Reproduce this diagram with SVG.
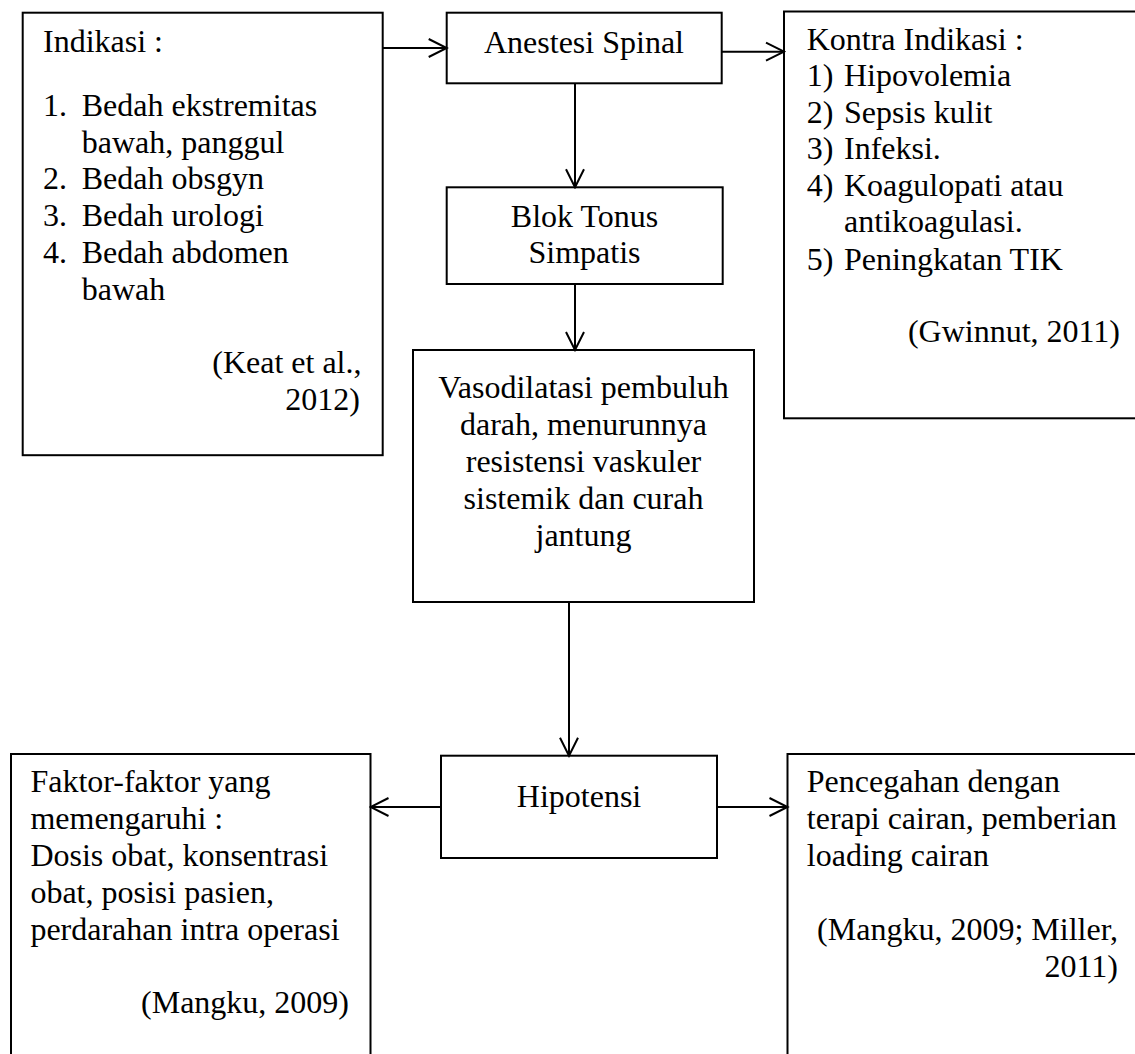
<svg xmlns="http://www.w3.org/2000/svg" width="1135" height="1054" viewBox="0 0 1135 1054">
<style>
.box{fill:#fff;stroke:#000;stroke-width:2}
.t{font-family:"Liberation Serif","Times New Roman",serif;font-size:32px;fill:#000}
.c{text-anchor:middle}
.r{text-anchor:end}
.ln{stroke:#000;stroke-width:2;fill:none}
</style>
<defs>
<marker id="ah" markerUnits="userSpaceOnUse" markerWidth="22" markerHeight="22" viewBox="0 0 22 22" refX="20" refY="11" orient="auto">
<path d="M2,2 L20,11 L2,20" fill="none" stroke="#000" stroke-width="2"/>
</marker>
</defs>
<g id="indikasi">
<rect class="box" x="22.7" y="12.7" width="360" height="442.5"/>
<text class="t" x="43" y="52">Indikasi :</text>
<text class="t" x="43" y="116">1.</text>
<text class="t" x="81.7" y="116">Bedah ekstremitas</text>
<text class="t" x="81.7" y="152.5">bawah, panggul</text>
<text class="t" x="43" y="189">2.</text>
<text class="t" x="81.7" y="189">Bedah obsgyn</text>
<text class="t" x="43" y="225.5">3.</text>
<text class="t" x="81.7" y="225.5">Bedah urologi</text>
<text class="t" x="43" y="262.5">4.</text>
<text class="t" x="81.7" y="262.5">Bedah abdomen</text>
<text class="t" x="81.7" y="299.5">bawah</text>
<text class="t r" x="361.5" y="373">(Keat et al.,</text>
<text class="t r" x="360" y="410">2012)</text>
</g>
<g id="anestesi">
<rect class="box" x="446.7" y="12.7" width="275" height="70.6"/>
<text class="t c" x="584" y="52.7">Anestesi Spinal</text>
</g>
<g id="kontra">
<rect class="box" x="784" y="11.5" width="370" height="406.8"/>
<text class="t" x="806.7" y="50">Kontra Indikasi :</text>
<text class="t" x="806.7" y="86">1)</text>
<text class="t" x="844" y="86">Hipovolemia</text>
<text class="t" x="806.7" y="122.5">2)</text>
<text class="t" x="844" y="122.5">Sepsis kulit</text>
<text class="t" x="806.7" y="159">3)</text>
<text class="t" x="844" y="159">Infeksi.</text>
<text class="t" x="806.7" y="195.7">4)</text>
<text class="t" x="844" y="195.7">Koagulopati atau</text>
<text class="t" x="844" y="232">antikoagulasi.</text>
<text class="t" x="806.7" y="270">5)</text>
<text class="t" x="844" y="270">Peningkatan TIK</text>
<text class="t r" x="1120" y="341.7">(Gwinnut, 2011)</text>
</g>
<g id="blok">
<rect class="box" x="446.7" y="187.3" width="276" height="96.7"/>
<text class="t c" x="584.5" y="226.7">Blok Tonus</text>
<text class="t c" x="584.5" y="263.3">Simpatis</text>
</g>
<g id="vasodilatasi">
<rect class="box" x="413" y="350" width="341" height="252"/>
<text class="t c" x="583.5" y="398.3">Vasodilatasi pembuluh</text>
<text class="t c" x="583.5" y="435.3">darah, menurunnya</text>
<text class="t c" x="583.5" y="472.3">resistensi vaskuler</text>
<text class="t c" x="583.5" y="509.3">sistemik dan curah</text>
<text class="t c" x="583.5" y="546.3">jantung</text>
</g>
<g id="hipotensi">
<rect class="box" x="441" y="755.7" width="276" height="102.3"/>
<text class="t c" x="579" y="807">Hipotensi</text>
</g>
<g id="faktor">
<rect class="box" x="11" y="754" width="359.5" height="320"/>
<text class="t" x="30.4" y="792">Faktor-faktor yang</text>
<text class="t" x="30.4" y="829">memengaruhi :</text>
<text class="t" x="30.4" y="866">Dosis obat, konsentrasi</text>
<text class="t" x="30.4" y="903">obat, posisi pasien,</text>
<text class="t" x="30.4" y="940">perdarahan intra operasi</text>
<text class="t r" x="349" y="1013">(Mangku, 2009)</text>
</g>
<g id="pencegahan">
<rect class="box" x="787.5" y="754" width="370" height="320"/>
<text class="t" x="806.8" y="792">Pencegahan dengan</text>
<text class="t" x="806.8" y="829">terapi cairan, pemberian</text>
<text class="t" x="806.8" y="866">loading cairan</text>
<text class="t r" x="1118" y="940">(Mangku, 2009; Miller,</text>
<text class="t r" x="1118" y="976.5">2011)</text>
</g>
<g id="connectors">
<line class="ln" x1="382.7" y1="48" x2="446.7" y2="48" marker-end="url(#ah)"/>
<line class="ln" x1="721.7" y1="51.7" x2="784" y2="51.7" marker-end="url(#ah)"/>
<line class="ln" x1="575" y1="83.3" x2="575" y2="187.3" marker-end="url(#ah)"/>
<line class="ln" x1="575" y1="284" x2="575" y2="350" marker-end="url(#ah)"/>
<line class="ln" x1="569" y1="602" x2="569" y2="755.7" marker-end="url(#ah)"/>
<line class="ln" x1="441" y1="807" x2="370.5" y2="807" marker-end="url(#ah)"/>
<line class="ln" x1="717" y1="807" x2="787.5" y2="807" marker-end="url(#ah)"/>
</g>
</svg>
